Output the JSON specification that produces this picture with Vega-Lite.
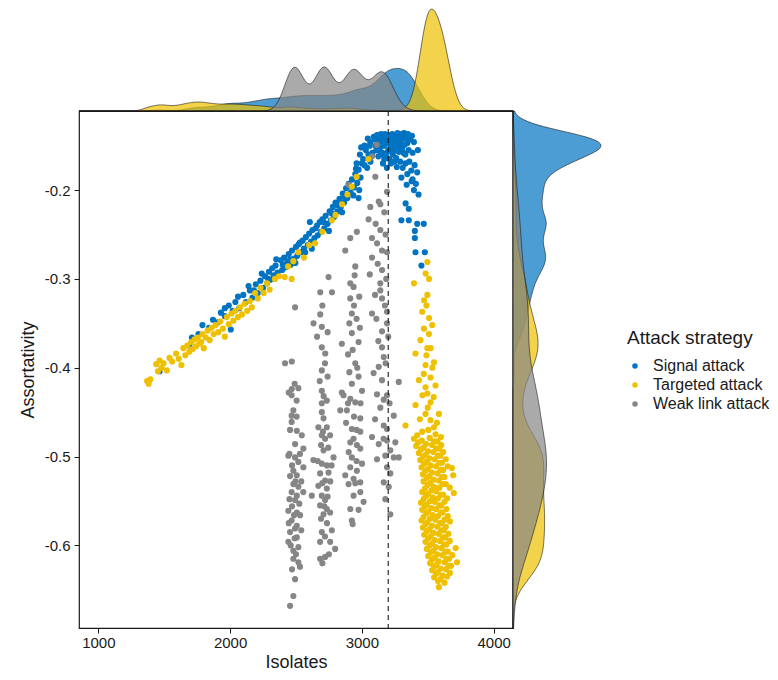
{
"$schema": "https://vega.github.io/schema/vega-lite/v6.json",
"padding": {"left": 18, "top": 7, "right": 5, "bottom": 5},
"config": {
  "font": "Liberation Sans",
  "view": {"stroke": null},
  "axis": {"labelFont": "Liberation Sans", "titleFont": "Liberation Sans", "labelFontSize": 15, "titleFontSize": 18, "titleFontWeight": "normal", "labelColor": "#1a1a1a", "titleColor": "#1a1a1a", "tickColor": "#1a1a1a", "tickSize": 5, "tickWidth": 1, "domain": false, "grid": false},
  "legend": {"orient": "none", "legendX": 548, "legendY": 320, "titleFont": "Liberation Sans", "labelFont": "Liberation Sans", "titleFontSize": 19, "titleFontWeight": "normal", "titleColor": "#1a1a1a", "labelFontSize": 16, "labelColor": "#1a1a1a", "symbolType": "circle", "symbolSize": 30, "symbolStrokeWidth": 0, "symbolOpacity": 1, "labelOffset": 10, "rowPadding": 3, "titlePadding": 10}
},
"datasets": {"pts": [
{"a":"Signal attack","x":1465,"y":-0.404},{"a":"Signal attack","x":1690,"y":-0.375},{"a":"Signal attack","x":1710,"y":-0.366},{"a":"Signal attack","x":1760,"y":-0.362},{"a":"Signal attack","x":1790,"y":-0.352},{"a":"Signal attack","x":1840,"y":-0.355},{"a":"Signal attack","x":1870,"y":-0.346},{"a":"Signal attack","x":1905,"y":-0.349},{"a":"Signal attack","x":1930,"y":-0.338},{"a":"Signal attack","x":1960,"y":-0.342},{"a":"Signal attack","x":1960,"y":-0.333},{"a":"Signal attack","x":1990,"y":-0.330},{"a":"Signal attack","x":2005,"y":-0.357},{"a":"Signal attack","x":2020,"y":-0.336},{"a":"Signal attack","x":2040,"y":-0.326},{"a":"Signal attack","x":2060,"y":-0.320},{"a":"Signal attack","x":2070,"y":-0.333},{"a":"Signal attack","x":2100,"y":-0.318},{"a":"Signal attack","x":2120,"y":-0.326},{"a":"Signal attack","x":2140,"y":-0.308},{"a":"Signal attack","x":2150,"y":-0.313},{"a":"Signal attack","x":2170,"y":-0.321},{"a":"Signal attack","x":2180,"y":-0.313},{"a":"Signal attack","x":2195,"y":-0.306},{"a":"Signal attack","x":2210,"y":-0.316},{"a":"Signal attack","x":2230,"y":-0.302},{"a":"Signal attack","x":2240,"y":-0.294},{"a":"Signal attack","x":2250,"y":-0.310},{"a":"Signal attack","x":2265,"y":-0.297},{"a":"Signal attack","x":2280,"y":-0.305},{"a":"Signal attack","x":2290,"y":-0.300},{"a":"Signal attack","x":2295,"y":-0.292},{"a":"Signal attack","x":2305,"y":-0.301},{"a":"Signal attack","x":2320,"y":-0.288},{"a":"Signal attack","x":2330,"y":-0.296},{"a":"Signal attack","x":2345,"y":-0.285},{"a":"Signal attack","x":2350,"y":-0.278},{"a":"Signal attack","x":2360,"y":-0.293},
{"a":"Targeted attack","x":1370,"y":-0.415},{"a":"Targeted attack","x":1382,"y":-0.418},{"a":"Targeted attack","x":1395,"y":-0.413},{"a":"Targeted attack","x":1440,"y":-0.396},{"a":"Targeted attack","x":1452,"y":-0.404},{"a":"Targeted attack","x":1465,"y":-0.392},{"a":"Targeted attack","x":1480,"y":-0.400},{"a":"Targeted attack","x":1495,"y":-0.395},{"a":"Targeted attack","x":1520,"y":-0.403},{"a":"Targeted attack","x":1540,"y":-0.389},{"a":"Targeted attack","x":1560,"y":-0.393},{"a":"Targeted attack","x":1590,"y":-0.384},{"a":"Targeted attack","x":1610,"y":-0.390},{"a":"Targeted attack","x":1630,"y":-0.397},{"a":"Targeted attack","x":1645,"y":-0.378},{"a":"Targeted attack","x":1660,"y":-0.386},{"a":"Targeted attack","x":1675,"y":-0.375},{"a":"Targeted attack","x":1690,"y":-0.382},{"a":"Targeted attack","x":1705,"y":-0.371},{"a":"Targeted attack","x":1715,"y":-0.379},{"a":"Targeted attack","x":1730,"y":-0.368},{"a":"Targeted attack","x":1740,"y":-0.376},{"a":"Targeted attack","x":1755,"y":-0.366},{"a":"Targeted attack","x":1765,"y":-0.373},{"a":"Targeted attack","x":1780,"y":-0.371},{"a":"Targeted attack","x":1790,"y":-0.362},{"a":"Targeted attack","x":1800,"y":-0.378},{"a":"Targeted attack","x":1815,"y":-0.366},{"a":"Targeted attack","x":1830,"y":-0.358},{"a":"Targeted attack","x":1845,"y":-0.369},{"a":"Targeted attack","x":1860,"y":-0.355},{"a":"Targeted attack","x":1875,"y":-0.362},{"a":"Targeted attack","x":1890,"y":-0.352},{"a":"Targeted attack","x":1910,"y":-0.360},{"a":"Targeted attack","x":1925,"y":-0.348},{"a":"Targeted attack","x":1945,"y":-0.356},{"a":"Targeted attack","x":1960,"y":-0.365},{"a":"Targeted attack","x":1975,"y":-0.343},{"a":"Targeted attack","x":1990,"y":-0.351},{"a":"Targeted attack","x":2010,"y":-0.339},{"a":"Targeted attack","x":2025,"y":-0.347},{"a":"Targeted attack","x":2040,"y":-0.336},{"a":"Targeted attack","x":2060,"y":-0.343},{"a":"Targeted attack","x":2075,"y":-0.332},{"a":"Targeted attack","x":2090,"y":-0.340},{"a":"Targeted attack","x":2110,"y":-0.328},{"a":"Targeted attack","x":2130,"y":-0.336},{"a":"Targeted attack","x":2150,"y":-0.325},{"a":"Targeted attack","x":2165,"y":-0.332},{"a":"Targeted attack","x":2190,"y":-0.316},{"a":"Targeted attack","x":2210,"y":-0.322},{"a":"Targeted attack","x":2230,"y":-0.310},{"a":"Targeted attack","x":2255,"y":-0.316},{"a":"Targeted attack","x":2280,"y":-0.305},{"a":"Targeted attack","x":2300,"y":-0.312},
{"a":"Targeted attack","x":3497,"y":-0.281},{"a":"Targeted attack","x":3484,"y":-0.294},{"a":"Targeted attack","x":3395,"y":-0.305},{"a":"Targeted attack","x":3510,"y":-0.300},{"a":"Targeted attack","x":3497,"y":-0.318},{"a":"Targeted attack","x":3472,"y":-0.324},{"a":"Targeted attack","x":3490,"y":-0.330},{"a":"Targeted attack","x":3458,"y":-0.337},{"a":"Targeted attack","x":3510,"y":-0.344},{"a":"Targeted attack","x":3534,"y":-0.352},{"a":"Targeted attack","x":3471,"y":-0.356},{"a":"Targeted attack","x":3509,"y":-0.362},{"a":"Targeted attack","x":3445,"y":-0.369},{"a":"Targeted attack","x":3497,"y":-0.378},{"a":"Targeted attack","x":3522,"y":-0.378},{"a":"Targeted attack","x":3407,"y":-0.384},{"a":"Targeted attack","x":3490,"y":-0.386},{"a":"Targeted attack","x":3547,"y":-0.394},{"a":"Targeted attack","x":3483,"y":-0.397},{"a":"Targeted attack","x":3535,"y":-0.400},{"a":"Targeted attack","x":3470,"y":-0.407},{"a":"Targeted attack","x":3521,"y":-0.411},{"a":"Targeted attack","x":3433,"y":-0.414},{"a":"Targeted attack","x":3559,"y":-0.420},{"a":"Targeted attack","x":3483,"y":-0.422},{"a":"Targeted attack","x":3497,"y":-0.429},{"a":"Targeted attack","x":3460,"y":-0.431},{"a":"Targeted attack","x":3545,"y":-0.433},{"a":"Targeted attack","x":3521,"y":-0.439},{"a":"Targeted attack","x":3407,"y":-0.442},{"a":"Targeted attack","x":3500,"y":-0.445},{"a":"Targeted attack","x":3585,"y":-0.452},{"a":"Targeted attack","x":3483,"y":-0.452},{"a":"Targeted attack","x":3440,"y":-0.458},{"a":"Targeted attack","x":3521,"y":-0.459},{"a":"Targeted attack","x":3570,"y":-0.462},{"a":"Targeted attack","x":3331,"y":-0.465},{"a":"Targeted attack","x":3547,"y":-0.467},{"a":"Targeted attack","x":3505,"y":-0.470},{"a":"Targeted attack","x":3458,"y":-0.472},{"a":"Targeted attack","x":3559,"y":-0.475},{"a":"Targeted attack","x":3420,"y":-0.476},{"a":"Targeted attack","x":3600,"y":-0.478},
{"a":"Targeted attack","x":3395,"y":-0.480},{"a":"Targeted attack","x":3455,"y":-0.482},{"a":"Targeted attack","x":3515,"y":-0.479},{"a":"Targeted attack","x":3575,"y":-0.483},
{"a":"Targeted attack","x":3428,"y":-0.484},{"a":"Targeted attack","x":3487,"y":-0.486},{"a":"Targeted attack","x":3548,"y":-0.483},{"a":"Targeted attack","x":3602,"y":-0.487},
{"a":"Targeted attack","x":3412,"y":-0.488},{"a":"Targeted attack","x":3468,"y":-0.490},{"a":"Targeted attack","x":3533,"y":-0.487},{"a":"Targeted attack","x":3588,"y":-0.491},
{"a":"Targeted attack","x":3448,"y":-0.492},{"a":"Targeted attack","x":3502,"y":-0.494},{"a":"Targeted attack","x":3563,"y":-0.491},{"a":"Targeted attack","x":3617,"y":-0.495},
{"a":"Targeted attack","x":3432,"y":-0.496},{"a":"Targeted attack","x":3483,"y":-0.498},{"a":"Targeted attack","x":3543,"y":-0.495},{"a":"Targeted attack","x":3597,"y":-0.499},
{"a":"Targeted attack","x":3463,"y":-0.500},{"a":"Targeted attack","x":3512,"y":-0.502},{"a":"Targeted attack","x":3578,"y":-0.499},{"a":"Targeted attack","x":3637,"y":-0.503},
{"a":"Targeted attack","x":3443,"y":-0.504},{"a":"Targeted attack","x":3492,"y":-0.506},{"a":"Targeted attack","x":3553,"y":-0.503},{"a":"Targeted attack","x":3607,"y":-0.507},
{"a":"Targeted attack","x":3473,"y":-0.508},{"a":"Targeted attack","x":3522,"y":-0.510},{"a":"Targeted attack","x":3588,"y":-0.507},{"a":"Targeted attack","x":3652,"y":-0.511},
{"a":"Targeted attack","x":3453,"y":-0.512},{"a":"Targeted attack","x":3502,"y":-0.514},{"a":"Targeted attack","x":3563,"y":-0.511},{"a":"Targeted attack","x":3617,"y":-0.515},{"a":"Targeted attack","x":3683,"y":-0.513},
{"a":"Targeted attack","x":3483,"y":-0.516},{"a":"Targeted attack","x":3532,"y":-0.518},{"a":"Targeted attack","x":3598,"y":-0.515},
{"a":"Targeted attack","x":3463,"y":-0.520},{"a":"Targeted attack","x":3512,"y":-0.522},{"a":"Targeted attack","x":3573,"y":-0.519},{"a":"Targeted attack","x":3627,"y":-0.523},{"a":"Targeted attack","x":3693,"y":-0.521},
{"a":"Targeted attack","x":3493,"y":-0.524},{"a":"Targeted attack","x":3542,"y":-0.526},{"a":"Targeted attack","x":3608,"y":-0.523},
{"a":"Targeted attack","x":3468,"y":-0.528},{"a":"Targeted attack","x":3517,"y":-0.530},{"a":"Targeted attack","x":3583,"y":-0.527},{"a":"Targeted attack","x":3637,"y":-0.531},
{"a":"Targeted attack","x":3498,"y":-0.532},{"a":"Targeted attack","x":3547,"y":-0.534},{"a":"Targeted attack","x":3613,"y":-0.531},{"a":"Targeted attack","x":3667,"y":-0.535},
{"a":"Targeted attack","x":3478,"y":-0.536},{"a":"Targeted attack","x":3527,"y":-0.538},{"a":"Targeted attack","x":3588,"y":-0.535},
{"a":"Targeted attack","x":3458,"y":-0.540},{"a":"Targeted attack","x":3502,"y":-0.542},{"a":"Targeted attack","x":3563,"y":-0.539},{"a":"Targeted attack","x":3617,"y":-0.543},{"a":"Targeted attack","x":3698,"y":-0.541},
{"a":"Targeted attack","x":3488,"y":-0.544},{"a":"Targeted attack","x":3537,"y":-0.546},{"a":"Targeted attack","x":3598,"y":-0.543},{"a":"Targeted attack","x":3647,"y":-0.547},
{"a":"Targeted attack","x":3468,"y":-0.548},{"a":"Targeted attack","x":3517,"y":-0.550},{"a":"Targeted attack","x":3578,"y":-0.547},{"a":"Targeted attack","x":3627,"y":-0.551},
{"a":"Targeted attack","x":3448,"y":-0.552},{"a":"Targeted attack","x":3492,"y":-0.554},{"a":"Targeted attack","x":3553,"y":-0.551},{"a":"Targeted attack","x":3602,"y":-0.555},
{"a":"Targeted attack","x":3478,"y":-0.556},{"a":"Targeted attack","x":3527,"y":-0.558},{"a":"Targeted attack","x":3588,"y":-0.555},{"a":"Targeted attack","x":3642,"y":-0.559},
{"a":"Targeted attack","x":3458,"y":-0.560},{"a":"Targeted attack","x":3502,"y":-0.562},{"a":"Targeted attack","x":3563,"y":-0.559},{"a":"Targeted attack","x":3612,"y":-0.563},
{"a":"Targeted attack","x":3488,"y":-0.564},{"a":"Targeted attack","x":3537,"y":-0.566},{"a":"Targeted attack","x":3598,"y":-0.563},{"a":"Targeted attack","x":3652,"y":-0.567},
{"a":"Targeted attack","x":3468,"y":-0.568},{"a":"Targeted attack","x":3517,"y":-0.570},{"a":"Targeted attack","x":3578,"y":-0.567},{"a":"Targeted attack","x":3627,"y":-0.571},
{"a":"Targeted attack","x":3453,"y":-0.572},{"a":"Targeted attack","x":3497,"y":-0.574},{"a":"Targeted attack","x":3558,"y":-0.571},{"a":"Targeted attack","x":3607,"y":-0.575},{"a":"Targeted attack","x":3668,"y":-0.573},
{"a":"Targeted attack","x":3483,"y":-0.576},{"a":"Targeted attack","x":3532,"y":-0.578},{"a":"Targeted attack","x":3593,"y":-0.575},{"a":"Targeted attack","x":3637,"y":-0.579},
{"a":"Targeted attack","x":3463,"y":-0.580},{"a":"Targeted attack","x":3512,"y":-0.582},{"a":"Targeted attack","x":3573,"y":-0.579},{"a":"Targeted attack","x":3622,"y":-0.583},
{"a":"Targeted attack","x":3493,"y":-0.584},{"a":"Targeted attack","x":3542,"y":-0.586},{"a":"Targeted attack","x":3603,"y":-0.583},{"a":"Targeted attack","x":3657,"y":-0.587},
{"a":"Targeted attack","x":3473,"y":-0.588},{"a":"Targeted attack","x":3522,"y":-0.590},{"a":"Targeted attack","x":3583,"y":-0.587},{"a":"Targeted attack","x":3632,"y":-0.591},
{"a":"Targeted attack","x":3503,"y":-0.592},{"a":"Targeted attack","x":3552,"y":-0.594},{"a":"Targeted attack","x":3613,"y":-0.591},{"a":"Targeted attack","x":3667,"y":-0.595},
{"a":"Targeted attack","x":3483,"y":-0.596},{"a":"Targeted attack","x":3532,"y":-0.598},{"a":"Targeted attack","x":3593,"y":-0.595},{"a":"Targeted attack","x":3642,"y":-0.599},
{"a":"Targeted attack","x":3513,"y":-0.600},{"a":"Targeted attack","x":3562,"y":-0.602},{"a":"Targeted attack","x":3623,"y":-0.599},{"a":"Targeted attack","x":3712,"y":-0.603},
{"a":"Targeted attack","x":3493,"y":-0.604},{"a":"Targeted attack","x":3542,"y":-0.606},{"a":"Targeted attack","x":3603,"y":-0.603},{"a":"Targeted attack","x":3652,"y":-0.607},
{"a":"Targeted attack","x":3523,"y":-0.608},{"a":"Targeted attack","x":3572,"y":-0.610},{"a":"Targeted attack","x":3633,"y":-0.607},{"a":"Targeted attack","x":3687,"y":-0.611},
{"a":"Targeted attack","x":3503,"y":-0.612},{"a":"Targeted attack","x":3552,"y":-0.614},{"a":"Targeted attack","x":3613,"y":-0.611},{"a":"Targeted attack","x":3662,"y":-0.615},
{"a":"Targeted attack","x":3533,"y":-0.616},{"a":"Targeted attack","x":3582,"y":-0.618},{"a":"Targeted attack","x":3643,"y":-0.615},{"a":"Targeted attack","x":3722,"y":-0.619},
{"a":"Targeted attack","x":3518,"y":-0.620},{"a":"Targeted attack","x":3567,"y":-0.622},{"a":"Targeted attack","x":3628,"y":-0.619},{"a":"Targeted attack","x":3677,"y":-0.623},
{"a":"Targeted attack","x":3548,"y":-0.624},{"a":"Targeted attack","x":3597,"y":-0.626},{"a":"Targeted attack","x":3658,"y":-0.623},
{"a":"Targeted attack","x":3533,"y":-0.628},{"a":"Targeted attack","x":3577,"y":-0.630},{"a":"Targeted attack","x":3638,"y":-0.627},
{"a":"Targeted attack","x":3563,"y":-0.632},{"a":"Targeted attack","x":3612,"y":-0.634},{"a":"Targeted attack","x":3668,"y":-0.631},
{"a":"Targeted attack","x":3548,"y":-0.636},{"a":"Targeted attack","x":3597,"y":-0.638},{"a":"Targeted attack","x":3647,"y":-0.635},
{"a":"Targeted attack","x":3578,"y":-0.640},{"a":"Targeted attack","x":3627,"y":-0.642},{"a":"Targeted attack","x":3585,"y":-0.647},
{"a":"Signal attack","x":2385,"y":-0.279},{"a":"Signal attack","x":2395,"y":-0.290},{"a":"Signal attack","x":2400,"y":-0.284},{"a":"Signal attack","x":2410,"y":-0.276},{"a":"Signal attack","x":2420,"y":-0.287},{"a":"Signal attack","x":2435,"y":-0.281},{"a":"Signal attack","x":2445,"y":-0.272},{"a":"Signal attack","x":2455,"y":-0.278},{"a":"Signal attack","x":2460,"y":-0.284},{"a":"Signal attack","x":2470,"y":-0.268},{"a":"Signal attack","x":2485,"y":-0.277},{"a":"Signal attack","x":2495,"y":-0.282},{"a":"Signal attack","x":2500,"y":-0.264},{"a":"Signal attack","x":2510,"y":-0.274},{"a":"Signal attack","x":2520,"y":-0.261},{"a":"Signal attack","x":2530,"y":-0.259},{"a":"Signal attack","x":2535,"y":-0.270},{"a":"Signal attack","x":2550,"y":-0.257},{"a":"Signal attack","x":2560,"y":-0.266},{"a":"Signal attack","x":2570,"y":-0.270},{"a":"Signal attack","x":2575,"y":-0.253},{"a":"Signal attack","x":2590,"y":-0.262},{"a":"Signal attack","x":2600,"y":-0.249},{"a":"Signal attack","x":2605,"y":-0.236},{"a":"Signal attack","x":2615,"y":-0.258},{"a":"Signal attack","x":2620,"y":-0.266},{"a":"Signal attack","x":2625,"y":-0.245},{"a":"Signal attack","x":2640,"y":-0.254},{"a":"Signal attack","x":2650,"y":-0.243},{"a":"Signal attack","x":2660,"y":-0.240},{"a":"Signal attack","x":2665,"y":-0.251},{"a":"Signal attack","x":2680,"y":-0.236},{"a":"Signal attack","x":2690,"y":-0.247},{"a":"Signal attack","x":2700,"y":-0.233},{"a":"Signal attack","x":2710,"y":-0.236},{"a":"Signal attack","x":2715,"y":-0.243},{"a":"Signal attack","x":2725,"y":-0.229},{"a":"Signal attack","x":2740,"y":-0.238},{"a":"Signal attack","x":2750,"y":-0.246},{"a":"Signal attack","x":2755,"y":-0.224},{"a":"Signal attack","x":2765,"y":-0.234},{"a":"Signal attack","x":2770,"y":-0.226},{"a":"Signal attack","x":2780,"y":-0.219},{"a":"Signal attack","x":2790,"y":-0.230},{"a":"Signal attack","x":2800,"y":-0.214},{"a":"Signal attack","x":2815,"y":-0.224},{"a":"Signal attack","x":2820,"y":-0.217},{"a":"Signal attack","x":2830,"y":-0.210},{"a":"Signal attack","x":2840,"y":-0.219},{"a":"Signal attack","x":2850,"y":-0.225},{"a":"Signal attack","x":2855,"y":-0.204},{"a":"Signal attack","x":2865,"y":-0.214},{"a":"Signal attack","x":2870,"y":-0.208},{"a":"Signal attack","x":2880,"y":-0.198},{"a":"Signal attack","x":2890,"y":-0.209},{"a":"Signal attack","x":2900,"y":-0.193},{"a":"Signal attack","x":2910,"y":-0.196},{"a":"Signal attack","x":2915,"y":-0.203},{"a":"Signal attack","x":2925,"y":-0.188},{"a":"Signal attack","x":2935,"y":-0.206},{"a":"Signal attack","x":2940,"y":-0.197},{"a":"Signal attack","x":2950,"y":-0.182},{"a":"Signal attack","x":2955,"y":-0.176},{"a":"Signal attack","x":2965,"y":-0.192},{"a":"Signal attack","x":2975,"y":-0.209},{"a":"Signal attack","x":2975,"y":-0.177},{"a":"Signal attack","x":2980,"y":-0.200},{"a":"Signal attack","x":2990,"y":-0.186},{"a":"Signal attack","x":3000,"y":-0.170},
{"a":"Signal attack","x":2960,"y":-0.170},{"a":"Signal attack","x":2985,"y":-0.160},{"a":"Signal attack","x":2995,"y":-0.152},{"a":"Signal attack","x":3010,"y":-0.165},{"a":"Signal attack","x":3020,"y":-0.172},{"a":"Signal attack","x":3020,"y":-0.150},{"a":"Signal attack","x":3030,"y":-0.155},{"a":"Signal attack","x":3040,"y":-0.175},{"a":"Signal attack","x":3045,"y":-0.142},{"a":"Signal attack","x":3050,"y":-0.160},{"a":"Signal attack","x":3060,"y":-0.150},{"a":"Signal attack","x":3064,"y":-0.146},{"a":"Signal attack","x":3065,"y":-0.168},{"a":"Signal attack","x":3080,"y":-0.158},{"a":"Signal attack","x":3090,"y":-0.140},{"a":"Signal attack","x":3105,"y":-0.150},{"a":"Signal attack","x":3115,"y":-0.138},{"a":"Signal attack","x":3125,"y":-0.155},{"a":"Signal attack","x":3145,"y":-0.160},{"a":"Signal attack","x":3145,"y":-0.137},{"a":"Signal attack","x":3160,"y":-0.145},{"a":"Signal attack","x":3170,"y":-0.165},{"a":"Signal attack","x":3185,"y":-0.140},{"a":"Signal attack","x":3195,"y":-0.157},{"a":"Signal attack","x":3200,"y":-0.145},{"a":"Signal attack","x":3210,"y":-0.148},{"a":"Signal attack","x":3220,"y":-0.170},{"a":"Signal attack","x":3240,"y":-0.155},{"a":"Signal attack","x":3250,"y":-0.148},{"a":"Signal attack","x":3260,"y":-0.164},
{"a":"Signal attack","x":3100,"y":-0.143},{"a":"Signal attack","x":3110,"y":-0.155},{"a":"Signal attack","x":3120,"y":-0.148},{"a":"Signal attack","x":3125,"y":-0.162},{"a":"Signal attack","x":3130,"y":-0.145},{"a":"Signal attack","x":3135,"y":-0.140},{"a":"Signal attack","x":3140,"y":-0.152},{"a":"Signal attack","x":3150,"y":-0.145},{"a":"Signal attack","x":3155,"y":-0.158},{"a":"Signal attack","x":3160,"y":-0.170},{"a":"Signal attack","x":3165,"y":-0.139},{"a":"Signal attack","x":3170,"y":-0.150},{"a":"Signal attack","x":3175,"y":-0.137},{"a":"Signal attack","x":3180,"y":-0.143},{"a":"Signal attack","x":3185,"y":-0.163},{"a":"Signal attack","x":3190,"y":-0.175},{"a":"Signal attack","x":3195,"y":-0.147},{"a":"Signal attack","x":3200,"y":-0.138},{"a":"Signal attack","x":3205,"y":-0.155},{"a":"Signal attack","x":3210,"y":-0.165},{"a":"Signal attack","x":3215,"y":-0.142},{"a":"Signal attack","x":3220,"y":-0.150},{"a":"Signal attack","x":3225,"y":-0.143},{"a":"Signal attack","x":3230,"y":-0.137},{"a":"Signal attack","x":3232,"y":-0.153},{"a":"Signal attack","x":3235,"y":-0.160},{"a":"Signal attack","x":3240,"y":-0.145},{"a":"Signal attack","x":3245,"y":-0.168},{"a":"Signal attack","x":3250,"y":-0.139},{"a":"Signal attack","x":3255,"y":-0.152},{"a":"Signal attack","x":3260,"y":-0.143},{"a":"Signal attack","x":3265,"y":-0.155},{"a":"Signal attack","x":3265,"y":-0.174},{"a":"Signal attack","x":3270,"y":-0.136},{"a":"Signal attack","x":3275,"y":-0.148},{"a":"Signal attack","x":3280,"y":-0.157},{"a":"Signal attack","x":3285,"y":-0.140},{"a":"Signal attack","x":3290,"y":-0.150},{"a":"Signal attack","x":3290,"y":-0.168},{"a":"Signal attack","x":3295,"y":-0.146},{"a":"Signal attack","x":3300,"y":-0.137},{"a":"Signal attack","x":3300,"y":-0.186},{"a":"Signal attack","x":3305,"y":-0.153},{"a":"Signal attack","x":3310,"y":-0.142},{"a":"Signal attack","x":3310,"y":-0.175},{"a":"Signal attack","x":3315,"y":-0.158},{"a":"Signal attack","x":3320,"y":-0.136},{"a":"Signal attack","x":3325,"y":-0.149},{"a":"Signal attack","x":3330,"y":-0.160},{"a":"Signal attack","x":3330,"y":-0.170},{"a":"Signal attack","x":3335,"y":-0.141},{"a":"Signal attack","x":3340,"y":-0.139},{"a":"Signal attack","x":3340,"y":-0.194},{"a":"Signal attack","x":3345,"y":-0.147},{"a":"Signal attack","x":3345,"y":-0.182},{"a":"Signal attack","x":3350,"y":-0.137},{"a":"Signal attack","x":3355,"y":-0.155},{"a":"Signal attack","x":3360,"y":-0.168},{"a":"Signal attack","x":3365,"y":-0.143},{"a":"Signal attack","x":3375,"y":-0.178},{"a":"Signal attack","x":3380,"y":-0.139},{"a":"Signal attack","x":3385,"y":-0.158},{"a":"Signal attack","x":3385,"y":-0.188},{"a":"Signal attack","x":3395,"y":-0.146},{"a":"Signal attack","x":3400,"y":-0.172},{"a":"Signal attack","x":3410,"y":-0.193},{"a":"Signal attack","x":3420,"y":-0.180},{"a":"Signal attack","x":3425,"y":-0.155},
{"a":"Signal attack","x":3378,"y":-0.190},{"a":"Signal attack","x":3395,"y":-0.200},{"a":"Signal attack","x":3430,"y":-0.205},{"a":"Signal attack","x":3332,"y":-0.215},{"a":"Signal attack","x":3356,"y":-0.221},{"a":"Signal attack","x":3300,"y":-0.234},{"a":"Signal attack","x":3356,"y":-0.234},{"a":"Signal attack","x":3420,"y":-0.238},{"a":"Signal attack","x":3470,"y":-0.238},{"a":"Signal attack","x":3402,"y":-0.246},{"a":"Signal attack","x":3402,"y":-0.254},{"a":"Signal attack","x":3407,"y":-0.270},{"a":"Signal attack","x":3478,"y":-0.270},{"a":"Signal attack","x":3452,"y":-0.285},
{"a":"Weak link attack","x":2493,"y":-0.332},{"a":"Weak link attack","x":2417,"y":-0.395},{"a":"Weak link attack","x":2468,"y":-0.393},{"a":"Weak link attack","x":2490,"y":-0.418},{"a":"Weak link attack","x":2468,"y":-0.424},{"a":"Weak link attack","x":2518,"y":-0.423},{"a":"Weak link attack","x":2445,"y":-0.428},{"a":"Weak link attack","x":2467,"y":-0.431},{"a":"Weak link attack","x":2505,"y":-0.437},{"a":"Weak link attack","x":2480,"y":-0.448},{"a":"Weak link attack","x":2467,"y":-0.454},{"a":"Weak link attack","x":2505,"y":-0.455},{"a":"Weak link attack","x":2467,"y":-0.461},{"a":"Weak link attack","x":2455,"y":-0.470},{"a":"Weak link attack","x":2506,"y":-0.471},{"a":"Weak link attack","x":2544,"y":-0.476},{"a":"Weak link attack","x":2493,"y":-0.486},{"a":"Weak link attack","x":2556,"y":-0.491},{"a":"Weak link attack","x":2450,"y":-0.497},{"a":"Weak link attack","x":2530,"y":-0.497},{"a":"Weak link attack","x":2442,"y":-0.499},{"a":"Weak link attack","x":2493,"y":-0.501},{"a":"Weak link attack","x":2518,"y":-0.506},{"a":"Weak link attack","x":2470,"y":-0.510},{"a":"Weak link attack","x":2556,"y":-0.512},{"a":"Weak link attack","x":2480,"y":-0.516},{"a":"Weak link attack","x":2506,"y":-0.521},{"a":"Weak link attack","x":2455,"y":-0.522},{"a":"Weak link attack","x":2540,"y":-0.528},{"a":"Weak link attack","x":2495,"y":-0.528},{"a":"Weak link attack","x":2480,"y":-0.531},{"a":"Weak link attack","x":2518,"y":-0.534},{"a":"Weak link attack","x":2467,"y":-0.540},{"a":"Weak link attack","x":2555,"y":-0.540},{"a":"Weak link attack","x":2506,"y":-0.544},{"a":"Weak link attack","x":2450,"y":-0.548},{"a":"Weak link attack","x":2493,"y":-0.549},{"a":"Weak link attack","x":2525,"y":-0.553},{"a":"Weak link attack","x":2470,"y":-0.556},{"a":"Weak link attack","x":2442,"y":-0.561},{"a":"Weak link attack","x":2506,"y":-0.563},{"a":"Weak link attack","x":2531,"y":-0.566},{"a":"Weak link attack","x":2485,"y":-0.566},{"a":"Weak link attack","x":2467,"y":-0.572},{"a":"Weak link attack","x":2445,"y":-0.575},{"a":"Weak link attack","x":2506,"y":-0.578},{"a":"Weak link attack","x":2493,"y":-0.581},{"a":"Weak link attack","x":2540,"y":-0.583},{"a":"Weak link attack","x":2455,"y":-0.585},{"a":"Weak link attack","x":2506,"y":-0.591},{"a":"Weak link attack","x":2490,"y":-0.592},{"a":"Weak link attack","x":2442,"y":-0.596},{"a":"Weak link attack","x":2460,"y":-0.600},{"a":"Weak link attack","x":2518,"y":-0.602},{"a":"Weak link attack","x":2480,"y":-0.606},{"a":"Weak link attack","x":2500,"y":-0.610},{"a":"Weak link attack","x":2480,"y":-0.615},{"a":"Weak link attack","x":2518,"y":-0.619},{"a":"Weak link attack","x":2530,"y":-0.624},{"a":"Weak link attack","x":2470,"y":-0.627},{"a":"Weak link attack","x":2493,"y":-0.638},{"a":"Weak link attack","x":2480,"y":-0.657},{"a":"Weak link attack","x":2455,"y":-0.668},
{"a":"Weak link attack","x":2747,"y":-0.298},{"a":"Weak link attack","x":2684,"y":-0.315},{"a":"Weak link attack","x":2773,"y":-0.315},{"a":"Weak link attack","x":2700,"y":-0.330},{"a":"Weak link attack","x":2684,"y":-0.340},{"a":"Weak link attack","x":2633,"y":-0.350},{"a":"Weak link attack","x":2696,"y":-0.354},{"a":"Weak link attack","x":2740,"y":-0.360},{"a":"Weak link attack","x":2660,"y":-0.365},{"a":"Weak link attack","x":2696,"y":-0.377},{"a":"Weak link attack","x":2722,"y":-0.384},{"a":"Weak link attack","x":2720,"y":-0.395},{"a":"Weak link attack","x":2696,"y":-0.403},{"a":"Weak link attack","x":2740,"y":-0.410},{"a":"Weak link attack","x":2680,"y":-0.415},{"a":"Weak link attack","x":2696,"y":-0.426},{"a":"Weak link attack","x":2710,"y":-0.432},{"a":"Weak link attack","x":2734,"y":-0.437},{"a":"Weak link attack","x":2696,"y":-0.440},{"a":"Weak link attack","x":2696,"y":-0.450},{"a":"Weak link attack","x":2709,"y":-0.457},{"a":"Weak link attack","x":2670,"y":-0.467},{"a":"Weak link attack","x":2734,"y":-0.467},{"a":"Weak link attack","x":2705,"y":-0.472},{"a":"Weak link attack","x":2696,"y":-0.476},{"a":"Weak link attack","x":2759,"y":-0.476},{"a":"Weak link attack","x":2721,"y":-0.480},{"a":"Weak link attack","x":2690,"y":-0.487},{"a":"Weak link attack","x":2745,"y":-0.490},{"a":"Weak link attack","x":2709,"y":-0.493},{"a":"Weak link attack","x":2785,"y":-0.501},{"a":"Weak link attack","x":2632,"y":-0.504},{"a":"Weak link attack","x":2665,"y":-0.505},{"a":"Weak link attack","x":2696,"y":-0.508},{"a":"Weak link attack","x":2734,"y":-0.510},{"a":"Weak link attack","x":2770,"y":-0.510},{"a":"Weak link attack","x":2747,"y":-0.518},{"a":"Weak link attack","x":2683,"y":-0.519},{"a":"Weak link attack","x":2721,"y":-0.527},{"a":"Weak link attack","x":2760,"y":-0.528},{"a":"Weak link attack","x":2700,"y":-0.530},{"a":"Weak link attack","x":2670,"y":-0.533},{"a":"Weak link attack","x":2734,"y":-0.536},{"a":"Weak link attack","x":2620,"y":-0.544},{"a":"Weak link attack","x":2696,"y":-0.544},{"a":"Weak link attack","x":2740,"y":-0.545},{"a":"Weak link attack","x":2721,"y":-0.549},{"a":"Weak link attack","x":2683,"y":-0.555},{"a":"Weak link attack","x":2715,"y":-0.556},{"a":"Weak link attack","x":2734,"y":-0.559},{"a":"Weak link attack","x":2759,"y":-0.563},{"a":"Weak link attack","x":2709,"y":-0.565},{"a":"Weak link attack","x":2690,"y":-0.570},{"a":"Weak link attack","x":2735,"y":-0.575},{"a":"Weak link attack","x":2772,"y":-0.583},{"a":"Weak link attack","x":2696,"y":-0.585},{"a":"Weak link attack","x":2720,"y":-0.590},{"a":"Weak link attack","x":2683,"y":-0.596},{"a":"Weak link attack","x":2759,"y":-0.596},{"a":"Weak link attack","x":2797,"y":-0.604},{"a":"Weak link attack","x":2750,"y":-0.610},{"a":"Weak link attack","x":2721,"y":-0.613},{"a":"Weak link attack","x":2683,"y":-0.615},{"a":"Weak link attack","x":2700,"y":-0.620},
{"a":"Weak link attack","x":2899,"y":-0.194},{"a":"Weak link attack","x":2962,"y":-0.247},{"a":"Weak link attack","x":2912,"y":-0.254},{"a":"Weak link attack","x":2874,"y":-0.268},{"a":"Weak link attack","x":2950,"y":-0.286},{"a":"Weak link attack","x":2945,"y":-0.296},{"a":"Weak link attack","x":2912,"y":-0.305},{"a":"Weak link attack","x":2937,"y":-0.309},{"a":"Weak link attack","x":2980,"y":-0.320},{"a":"Weak link attack","x":2912,"y":-0.322},{"a":"Weak link attack","x":2940,"y":-0.330},{"a":"Weak link attack","x":2924,"y":-0.339},{"a":"Weak link attack","x":2960,"y":-0.345},{"a":"Weak link attack","x":2905,"y":-0.350},{"a":"Weak link attack","x":2985,"y":-0.355},{"a":"Weak link attack","x":2924,"y":-0.361},{"a":"Weak link attack","x":2975,"y":-0.371},{"a":"Weak link attack","x":2848,"y":-0.373},{"a":"Weak link attack","x":2930,"y":-0.380},{"a":"Weak link attack","x":2895,"y":-0.385},{"a":"Weak link attack","x":2950,"y":-0.395},{"a":"Weak link attack","x":2965,"y":-0.400},{"a":"Weak link attack","x":2905,"y":-0.405},{"a":"Weak link attack","x":2975,"y":-0.410},{"a":"Weak link attack","x":2924,"y":-0.418},{"a":"Weak link attack","x":3001,"y":-0.426},{"a":"Weak link attack","x":2848,"y":-0.428},{"a":"Weak link attack","x":2861,"y":-0.431},{"a":"Weak link attack","x":2912,"y":-0.435},{"a":"Weak link attack","x":2950,"y":-0.439},{"a":"Weak link attack","x":2990,"y":-0.440},{"a":"Weak link attack","x":2895,"y":-0.440},{"a":"Weak link attack","x":2886,"y":-0.448},{"a":"Weak link attack","x":2836,"y":-0.448},{"a":"Weak link attack","x":2940,"y":-0.455},{"a":"Weak link attack","x":2988,"y":-0.457},{"a":"Weak link attack","x":2880,"y":-0.462},{"a":"Weak link attack","x":2924,"y":-0.469},{"a":"Weak link attack","x":2960,"y":-0.470},{"a":"Weak link attack","x":2988,"y":-0.472},{"a":"Weak link attack","x":2937,"y":-0.480},{"a":"Weak link attack","x":2912,"y":-0.484},{"a":"Weak link attack","x":2962,"y":-0.487},{"a":"Weak link attack","x":2988,"y":-0.491},{"a":"Weak link attack","x":2900,"y":-0.495},{"a":"Weak link attack","x":2924,"y":-0.501},{"a":"Weak link attack","x":2960,"y":-0.505},{"a":"Weak link attack","x":3001,"y":-0.508},{"a":"Weak link attack","x":2912,"y":-0.512},{"a":"Weak link attack","x":2962,"y":-0.516},{"a":"Weak link attack","x":2874,"y":-0.521},{"a":"Weak link attack","x":2937,"y":-0.525},{"a":"Weak link attack","x":2988,"y":-0.529},{"a":"Weak link attack","x":2950,"y":-0.530},{"a":"Weak link attack","x":2899,"y":-0.531},{"a":"Weak link attack","x":2988,"y":-0.540},{"a":"Weak link attack","x":2937,"y":-0.544},{"a":"Weak link attack","x":3013,"y":-0.551},{"a":"Weak link attack","x":2912,"y":-0.559},{"a":"Weak link attack","x":2975,"y":-0.560},{"a":"Weak link attack","x":2924,"y":-0.572},{"a":"Weak link attack","x":2930,"y":-0.576},
{"a":"Weak link attack","x":3113,"y":-0.149},{"a":"Weak link attack","x":3077,"y":-0.162},{"a":"Weak link attack","x":3102,"y":-0.185},{"a":"Weak link attack","x":3191,"y":-0.202},{"a":"Weak link attack","x":3128,"y":-0.213},{"a":"Weak link attack","x":3140,"y":-0.216},{"a":"Weak link attack","x":3064,"y":-0.219},{"a":"Weak link attack","x":3170,"y":-0.225},{"a":"Weak link attack","x":3051,"y":-0.233},{"a":"Weak link attack","x":3105,"y":-0.238},{"a":"Weak link attack","x":3140,"y":-0.245},{"a":"Weak link attack","x":3180,"y":-0.250},{"a":"Weak link attack","x":3077,"y":-0.254},{"a":"Weak link attack","x":3115,"y":-0.260},{"a":"Weak link attack","x":3153,"y":-0.268},{"a":"Weak link attack","x":3191,"y":-0.270},{"a":"Weak link attack","x":3077,"y":-0.276},{"a":"Weak link attack","x":3120,"y":-0.283},{"a":"Weak link attack","x":3153,"y":-0.290},{"a":"Weak link attack","x":3060,"y":-0.295},{"a":"Weak link attack","x":3185,"y":-0.300},{"a":"Weak link attack","x":3140,"y":-0.305},{"a":"Weak link attack","x":3140,"y":-0.313},{"a":"Weak link attack","x":3100,"y":-0.318},{"a":"Weak link attack","x":3153,"y":-0.322},{"a":"Weak link attack","x":3175,"y":-0.330},{"a":"Weak link attack","x":3191,"y":-0.337},{"a":"Weak link attack","x":3077,"y":-0.339},{"a":"Weak link attack","x":3110,"y":-0.345},{"a":"Weak link attack","x":3191,"y":-0.350},{"a":"Weak link attack","x":3153,"y":-0.359},{"a":"Weak link attack","x":3200,"y":-0.365},{"a":"Weak link attack","x":3125,"y":-0.370},{"a":"Weak link attack","x":3153,"y":-0.377},{"a":"Weak link attack","x":3166,"y":-0.388},{"a":"Weak link attack","x":3180,"y":-0.395},{"a":"Weak link attack","x":3128,"y":-0.399},{"a":"Weak link attack","x":3089,"y":-0.406},{"a":"Weak link attack","x":3153,"y":-0.414},{"a":"Weak link attack","x":3280,"y":-0.416},{"a":"Weak link attack","x":3115,"y":-0.430},{"a":"Weak link attack","x":3191,"y":-0.431},{"a":"Weak link attack","x":3166,"y":-0.436},{"a":"Weak link attack","x":3210,"y":-0.440},{"a":"Weak link attack","x":3140,"y":-0.445},{"a":"Weak link attack","x":3242,"y":-0.454},{"a":"Weak link attack","x":3100,"y":-0.458},{"a":"Weak link attack","x":3166,"y":-0.465},{"a":"Weak link attack","x":3191,"y":-0.469},{"a":"Weak link attack","x":3077,"y":-0.478},{"a":"Weak link attack","x":3165,"y":-0.480},{"a":"Weak link attack","x":3191,"y":-0.482},{"a":"Weak link attack","x":3254,"y":-0.484},{"a":"Weak link attack","x":3128,"y":-0.486},{"a":"Weak link attack","x":3216,"y":-0.493},{"a":"Weak link attack","x":3178,"y":-0.499},{"a":"Weak link attack","x":3242,"y":-0.501},{"a":"Weak link attack","x":3280,"y":-0.501},{"a":"Weak link attack","x":3115,"y":-0.503},{"a":"Weak link attack","x":3191,"y":-0.512},{"a":"Weak link attack","x":3216,"y":-0.519},{"a":"Weak link attack","x":3166,"y":-0.529},{"a":"Weak link attack","x":3204,"y":-0.534},{"a":"Weak link attack","x":3178,"y":-0.548},{"a":"Weak link attack","x":3216,"y":-0.565},
{"a":"Targeted attack","x":2340,"y":-0.300},{"a":"Targeted attack","x":2370,"y":-0.297},{"a":"Targeted attack","x":2414,"y":-0.298},{"a":"Targeted attack","x":2440,"y":-0.286},{"a":"Targeted attack","x":2467,"y":-0.300},{"a":"Targeted attack","x":2480,"y":-0.280},{"a":"Targeted attack","x":2518,"y":-0.270},{"a":"Targeted attack","x":2560,"y":-0.276},{"a":"Targeted attack","x":2600,"y":-0.262},{"a":"Targeted attack","x":2645,"y":-0.260},{"a":"Targeted attack","x":2700,"y":-0.247},{"a":"Targeted attack","x":2772,"y":-0.234},{"a":"Targeted attack","x":2800,"y":-0.228},{"a":"Targeted attack","x":2850,"y":-0.216},{"a":"Targeted attack","x":2890,"y":-0.205},{"a":"Targeted attack","x":2924,"y":-0.196},{"a":"Targeted attack","x":2960,"y":-0.185},{"a":"Targeted attack","x":3050,"y":-0.165}
]},
"columns": 2,
"spacing": 0,
"align": "each",
"bounds": "flush",
"concat": [
 {
  "width": 434, "height": 102,
  "data": {"name": "pts"},
  "layer": [
   {"transform": [{"filter": "datum.a === 'Signal attack'"}, {"density": "x", "groupby": ["a"], "bandwidth": 65, "extent": [853, 4147], "steps": 300, "as": ["x", "d"]}],
    "mark": {"type": "area", "fillOpacity": 0.7, "stroke": "#1a1a1a", "strokeWidth": 0.6},
    "encoding": {"x": {"field": "x", "type": "quantitative", "scale": {"domain": [853, 4147], "nice": false, "zero": false}, "axis": null}, "y": {"field": "d", "type": "quantitative", "stack": null, "scale": {"nice": false, "zero": true}, "axis": null}, "color": {"field": "a", "type": "nominal", "title": "Attack strategy", "scale": {"domain": ["Signal attack", "Targeted attack", "Weak link attack"], "range": ["#0073C2", "#EFC000", "#868686"]}, "legend": {"symbolType": "circle", "symbolOpacity": 1, "symbolStrokeWidth": 0}}}},
   {"transform": [{"filter": "datum.a === 'Targeted attack'"}, {"density": "x", "groupby": ["a"], "bandwidth": 48, "extent": [853, 4147], "steps": 300, "as": ["x", "d"]}],
    "mark": {"type": "area", "fillOpacity": 0.7, "stroke": "#1a1a1a", "strokeWidth": 0.6},
    "encoding": {"x": {"field": "x", "type": "quantitative", "scale": {"domain": [853, 4147], "nice": false, "zero": false}, "axis": null}, "y": {"field": "d", "type": "quantitative", "stack": null, "scale": {"nice": false, "zero": true}, "axis": null}, "color": {"field": "a", "type": "nominal", "title": "Attack strategy", "scale": {"domain": ["Signal attack", "Targeted attack", "Weak link attack"], "range": ["#0073C2", "#EFC000", "#868686"]}, "legend": {"symbolType": "circle", "symbolOpacity": 1, "symbolStrokeWidth": 0}}}},
   {"transform": [{"filter": "datum.a === 'Weak link attack'"}, {"density": "x", "groupby": ["a"], "bandwidth": 65, "extent": [853, 4147], "steps": 300, "as": ["x", "d"]}],
    "mark": {"type": "area", "fillOpacity": 0.7, "stroke": "#1a1a1a", "strokeWidth": 0.6},
    "encoding": {"x": {"field": "x", "type": "quantitative", "scale": {"domain": [853, 4147], "nice": false, "zero": false}, "axis": null}, "y": {"field": "d", "type": "quantitative", "stack": null, "scale": {"nice": false, "zero": true}, "axis": null}, "color": {"field": "a", "type": "nominal", "title": "Attack strategy", "scale": {"domain": ["Signal attack", "Targeted attack", "Weak link attack"], "range": ["#0073C2", "#EFC000", "#868686"]}, "legend": {"symbolType": "circle", "symbolOpacity": 1, "symbolStrokeWidth": 0}}}}
  ]
 },
 {
  "width": 88, "height": 102,
  "data": {"values": [{"blank": ""}]},
  "mark": {"type": "text", "opacity": 0},
  "encoding": {"text": {"field": "blank"}}
 },
 {
  "width": 434, "height": 517,
  "view": {"stroke": "#1a1a1a", "strokeWidth": 1.2},
  "layer": [
   {"data": {"name": "pts"},
    "mark": {"type": "circle", "size": 38, "opacity": 1},
    "encoding": {
     "x": {"field": "x", "type": "quantitative", "scale": {"domain": [853, 4147], "nice": false, "zero": false}, "axis": {"title": "Isolates", "values": [1000, 2000, 3000, 4000], "format": "d", "labelPadding": 2, "titlePadding": 3}},
     "y": {"field": "y", "type": "quantitative", "scale": {"domain": [-0.693, -0.111], "nice": false, "zero": false}, "axis": {"title": "Assortativity", "values": [-0.6, -0.5, -0.4, -0.3, -0.2], "labelExpr": "'-' + format(-datum.value, '.1f')", "labelPadding": 4, "titlePadding": 7}},
     "color": {"field": "a", "type": "nominal", "title": "Attack strategy", "scale": {"domain": ["Signal attack", "Targeted attack", "Weak link attack"], "range": ["#0073C2", "#EFC000", "#868686"]}, "legend": {"symbolType": "circle", "symbolOpacity": 1, "symbolStrokeWidth": 0}}
    }},
   {"data": {"values": [{"x": 3200}]},
    "mark": {"type": "rule", "strokeDash": [5, 4], "color": "#1a1a1a", "strokeWidth": 1.1},
    "encoding": {"x": {"field": "x", "type": "quantitative"}}}
  ]
 },
 {
  "width": 88, "height": 517,
  "data": {"name": "pts"},
  "layer": [
   {"transform": [{"filter": "datum.a === 'Signal attack'"}, {"density": "y", "groupby": ["a"], "bandwidth": 0.011, "extent": [-0.693, -0.111], "steps": 300, "as": ["y", "d"]}],
    "mark": {"type": "area", "orient": "horizontal", "fillOpacity": 0.7, "stroke": "#1a1a1a", "strokeWidth": 0.6},
    "encoding": {"y": {"field": "y", "type": "quantitative", "scale": {"domain": [-0.693, -0.111], "nice": false, "zero": false}, "axis": null}, "x": {"field": "d", "type": "quantitative", "stack": null, "scale": {"nice": false, "zero": true}, "axis": null}, "color": {"field": "a", "type": "nominal", "title": "Attack strategy", "scale": {"domain": ["Signal attack", "Targeted attack", "Weak link attack"], "range": ["#0073C2", "#EFC000", "#868686"]}, "legend": {"symbolType": "circle", "symbolOpacity": 1, "symbolStrokeWidth": 0}}}},
   {"transform": [{"filter": "datum.a === 'Targeted attack'"}, {"density": "y", "groupby": ["a"], "bandwidth": 0.016, "extent": [-0.693, -0.111], "steps": 300, "as": ["y", "d"]}],
    "mark": {"type": "area", "orient": "horizontal", "fillOpacity": 0.7, "stroke": "#1a1a1a", "strokeWidth": 0.6},
    "encoding": {"y": {"field": "y", "type": "quantitative", "scale": {"domain": [-0.693, -0.111], "nice": false, "zero": false}, "axis": null}, "x": {"field": "d", "type": "quantitative", "stack": null, "scale": {"nice": false, "zero": true}, "axis": null}, "color": {"field": "a", "type": "nominal", "title": "Attack strategy", "scale": {"domain": ["Signal attack", "Targeted attack", "Weak link attack"], "range": ["#0073C2", "#EFC000", "#868686"]}, "legend": {"symbolType": "circle", "symbolOpacity": 1, "symbolStrokeWidth": 0}}}},
   {"transform": [{"filter": "datum.a === 'Weak link attack'"}, {"density": "y", "groupby": ["a"], "bandwidth": 0.025, "extent": [-0.693, -0.111], "steps": 300, "as": ["y", "d"]}],
    "mark": {"type": "area", "orient": "horizontal", "fillOpacity": 0.7, "stroke": "#1a1a1a", "strokeWidth": 0.6},
    "encoding": {"y": {"field": "y", "type": "quantitative", "scale": {"domain": [-0.693, -0.111], "nice": false, "zero": false}, "axis": null}, "x": {"field": "d", "type": "quantitative", "stack": null, "scale": {"nice": false, "zero": true}, "axis": null}, "color": {"field": "a", "type": "nominal", "title": "Attack strategy", "scale": {"domain": ["Signal attack", "Targeted attack", "Weak link attack"], "range": ["#0073C2", "#EFC000", "#868686"]}, "legend": {"symbolType": "circle", "symbolOpacity": 1, "symbolStrokeWidth": 0}}}}
  ]
 }
]
}
